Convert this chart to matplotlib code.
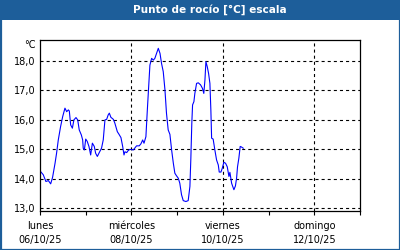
import matplotlib
matplotlib.use("Agg")
import matplotlib.pyplot as plt
from matplotlib.patches import Rectangle

# ---- data ----
title = "Punto de rocío [°C] escala"
unit_label = "°C"
hours = [0, 1.7, 3.1, 4.4, 5.6, 6.6, 7.9, 8.7, 9.6, 10.8, 11.9, 13.1, 14.0, 14.9, 15.4,
         16.1, 17.0, 17.8, 18.9, 19.8, 20.6, 21.7, 22.4, 22.7, 23.3, 24.0, 24.8, 25.7,
         26.6, 27.5, 28.5, 29.2, 30.1, 31.1, 32.3, 33.2, 34.1, 35.0, 35.8, 36.4, 37.2,
         38.5, 39.3, 40.6, 41.4, 42.5, 43.4, 44.1, 44.6, 45.5, 46.3, 47.2, 49.0, 50.7,
         52.1, 53.0, 53.9, 54.6, 55.1, 55.6, 56.3, 57.0, 57.7, 58.6, 59.5, 60.3, 61.2,
         62.1, 63.0, 63.8, 64.7, 65.6, 66.4, 67.3,
         68.2, 69.1, 70.0, 70.8, 71.7, 72.6, 73.4, 74.3, 75.2, 76.6, 77.8, 78.7, 79.2,
         79.7, 80.1, 80.8, 81.3, 82.2, 83.1, 84.3, 85.3, 86.0, 86.6, 87.1, 87.8, 88.5,
         89.2, 89.7, 90.1, 90.9, 91.8, 92.7, 93.6, 94.1, 95.0, 95.7, 96.5, 97.4, 98.3,
         99.2, 99.7, 100.6, 101.8, 102.6, 103.2, 103.7, 104.4, 105.1, 105.8, 106.7]
dewpoint = [14.27, 14.14, 13.91, 13.94, 13.83, 14.05, 14.53, 14.87, 15.32, 15.77, 16.11,
            16.40, 16.28, 16.34, 16.30, 15.83, 15.72, 16.00, 16.08, 16.00, 15.66, 15.49,
            15.32, 15.04, 14.98, 15.35, 15.27, 15.10, 14.81, 15.21, 15.10, 14.87, 14.76,
            14.89, 15.04, 15.32, 16.00, 16.02, 16.17, 16.23, 16.09, 16.02, 15.89, 15.60,
            15.52, 15.40, 15.10, 14.81, 14.92, 14.89, 14.96, 15.00, 14.98, 15.12, 15.12,
            15.19, 15.32, 15.21, 15.32, 15.43, 16.28, 17.07, 17.86, 18.09, 18.03, 18.09,
            18.26, 18.43, 18.26, 17.92, 17.64, 17.02, 16.23, 15.66,
            15.51, 14.98, 14.53, 14.19, 14.10, 14.02, 13.85, 13.46, 13.26, 13.23, 13.26,
            13.74, 14.70, 15.89, 16.51, 16.62, 16.90, 17.24, 17.26, 17.19, 17.07, 16.90,
            17.36, 17.98, 17.81, 17.58, 17.24, 16.34, 15.38, 15.35, 14.98, 14.64, 14.47,
            14.23, 14.23, 14.36, 14.56, 14.53, 14.41, 14.08, 14.22, 13.85, 13.63, 13.76,
            14.02, 14.41, 14.70, 15.10, 15.08, 15.04]
y_ticks = [13, 14, 15, 16, 17, 18]
y_tick_labels = ["13,0", "14,0", "15,0", "16,0", "17,0", "18,0"]
x_major = [0, 48, 96, 144]
x_minor = [24, 72, 120, 168]
x_labels = ["lunes\n06/10/25", "miércoles\n08/10/25", "viernes\n10/10/25", "domingo\n12/10/25"]

BLUE = "#1d5e9a"
plt.rcParams['font.family'] = ['DejaVu Sans']
plt.rcParams['lines.scale_dashes'] = False

fig = plt.figure(figsize=(4, 2.5), dpi=100)
fig.patch.set_facecolor("white")
# title bar and border
fig.patches.append(Rectangle((0, 1 - 20 / 250), 1, 20 / 250, transform=fig.transFigure,
                             facecolor=BLUE, edgecolor="none", zorder=0))
fig.patches.append(Rectangle((0.5 / 400, 0.5 / 250), 399 / 400, 249 / 250, transform=fig.transFigure,
                             facecolor="none", edgecolor=BLUE, linewidth=1.6, zorder=1))
fig.text(210 / 400, 1 - 10 / 250, title, color="white", fontsize=7.6, fontweight="bold",
         ha="center", va="center")

ax = fig.add_axes([40 / 400, 1 - 211 / 250, 320 / 400, 171 / 250])
ax.plot(hours, dewpoint, color="#0000ff", linewidth=0.8)
ax.set_xlim(0, 168)
ax.set_ylim(12.908, 18.713)
ax.set_yticks(y_ticks)
ax.set_yticklabels(y_tick_labels)
ax.set_xticks(x_major)
ax.set_xticklabels(x_labels, linespacing=1.55)
ax.set_xticks(x_minor, minor=True)
ax.tick_params(axis="y", length=0, pad=3, labelsize=7)
ax.tick_params(axis="x", which="both", length=3, width=0.8, direction="out", pad=4, labelsize=7)
for v in y_ticks:
    ax.axhline(v, color="black", linewidth=0.8, linestyle=(0, (2.2, 2.2)), zorder=1)
for v in x_major[1:]:
    ax.axvline(v, color="black", linewidth=0.8, linestyle=(0, (2.2, 2.2)), zorder=1)
for s in ax.spines.values():
    s.set_linewidth(0.9)
fig.text(36 / 400, 1 - 45 / 250, unit_label, fontsize=7, ha="right", va="center")

fig.savefig("out.png", dpi=100)
